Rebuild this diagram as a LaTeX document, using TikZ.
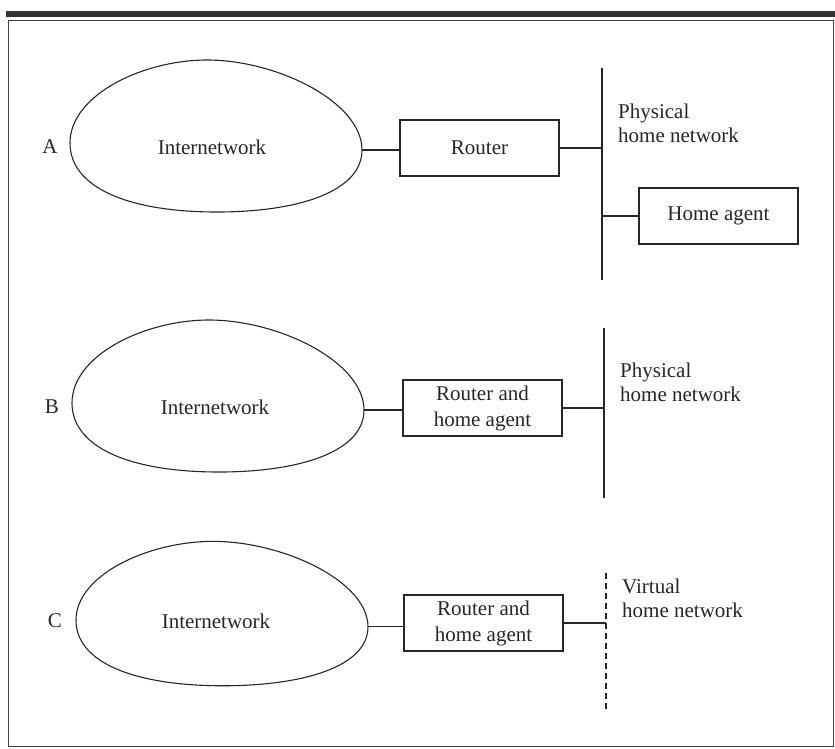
\documentclass[tikz,border=0pt]{standalone}
\usepackage{fontspec}
\setmainfont{Liberation Serif}
\begin{document}
\begin{tikzpicture}[x=1pt,y=-1pt,
  ink/.style={draw=black!85, line width=1.1pt},
  txt/.style={font=\fontsize{21}{24}\selectfont, inner sep=0pt, text=black!85},
  box/.style={ink, txt, minimum width=159pt, minimum height=56pt, align=center,
    font=\fontsize{21}{26}\selectfont},
  side/.style={txt, align=left, anchor=west},
  bus/.style={draw=black!85, line width=1.1pt},
  virtualbus/.style={bus, dash pattern=on 6pt off 4pt}]

% page frame
\useasboundingbox (0,0) rectangle (835,748);
\fill[black!80] (6,11) rectangle (835,17);
\draw[black!75, line width=1pt] (8,20) -- (8,746) -- (833,746) -- (833,20) -- cycle;

% egg-shaped internetwork cloud centred at (#1,#2), vertical scale #4; east point named #3
\newcommand\internetblob[4]{%
  \begin{scope}[shift={(#1,#2)}, yscale=#4]
    \draw[ink] (-145,-4)
      .. controls (-145,-52) and (-72,-87) .. (-8,-87)
      .. controls (62,-87) and (147,-45) .. (147,3)
      .. controls (147,45) and (82,65) .. (2,65)
      .. controls (-88,65) and (-145,40) .. (-145,-4) -- cycle;
    \coordinate (#3) at (147,3);
  \end{scope}}

% ---- A: separate home agent on the physical home network
\internetblob{215}{147}{cloudA}{1}
\node[txt] (labA) at (50,147) {A};
\node[txt] (netA) at (212,147) {Internetwork};
\node[box] (routerA) at (479.5,148) {Router};
\coordinate (busAtop) at (602,68);
\coordinate (busAbot) at (602,280);
\draw[bus] (busAtop) -- (busAbot);
\node[box] (haA) at (718.5,216) {Home agent};
\node[side] (physA) at (618,123) {Physical\\home network};
\draw[ink] (cloudA) -- (cloudA -| routerA.west);
\draw[ink] (routerA.east) -- (routerA.east -| busAtop);
\draw[ink] (haA.west -| busAtop) -- (haA.west);

% ---- B: router doubles as home agent
\internetblob{217}{407}{cloudB}{1}
\node[txt] (labB) at (52,407) {B};
\node[txt] (netB) at (215,407) {Internetwork};
\node[box] (routerB) at (482.5,408) {Router and\\home agent};
\coordinate (busBtop) at (604,328);
\coordinate (busBbot) at (604,498);
\draw[bus] (busBtop) -- (busBbot);
\node[side] (physB) at (620,382) {Physical\\home network};
\draw[ink] (cloudB) -- (cloudB -| routerB.west);
\draw[ink] (routerB.east) -- (routerB.east -| busBtop);

% ---- C: virtual home network
\internetblob{221}{624}{cloudC}{0.95}
\node[txt] (labC) at (55,621) {C};
\node[txt] (netC) at (216,621) {Internetwork};
\node[box] (routerC) at (483.5,623) {Router and\\home agent};
\coordinate (busCtop) at (606,573);
\coordinate (busCbot) at (606,710);
\draw[virtualbus] (busCtop) -- (busCbot);
\node[side] (virtC) at (622,598) {Virtual\\home network};
\draw[ink] (cloudC) -- (cloudC -| routerC.west);
\draw[ink] (routerC.east) -- (routerC.east -| busCtop);
\end{tikzpicture}
\end{document}
